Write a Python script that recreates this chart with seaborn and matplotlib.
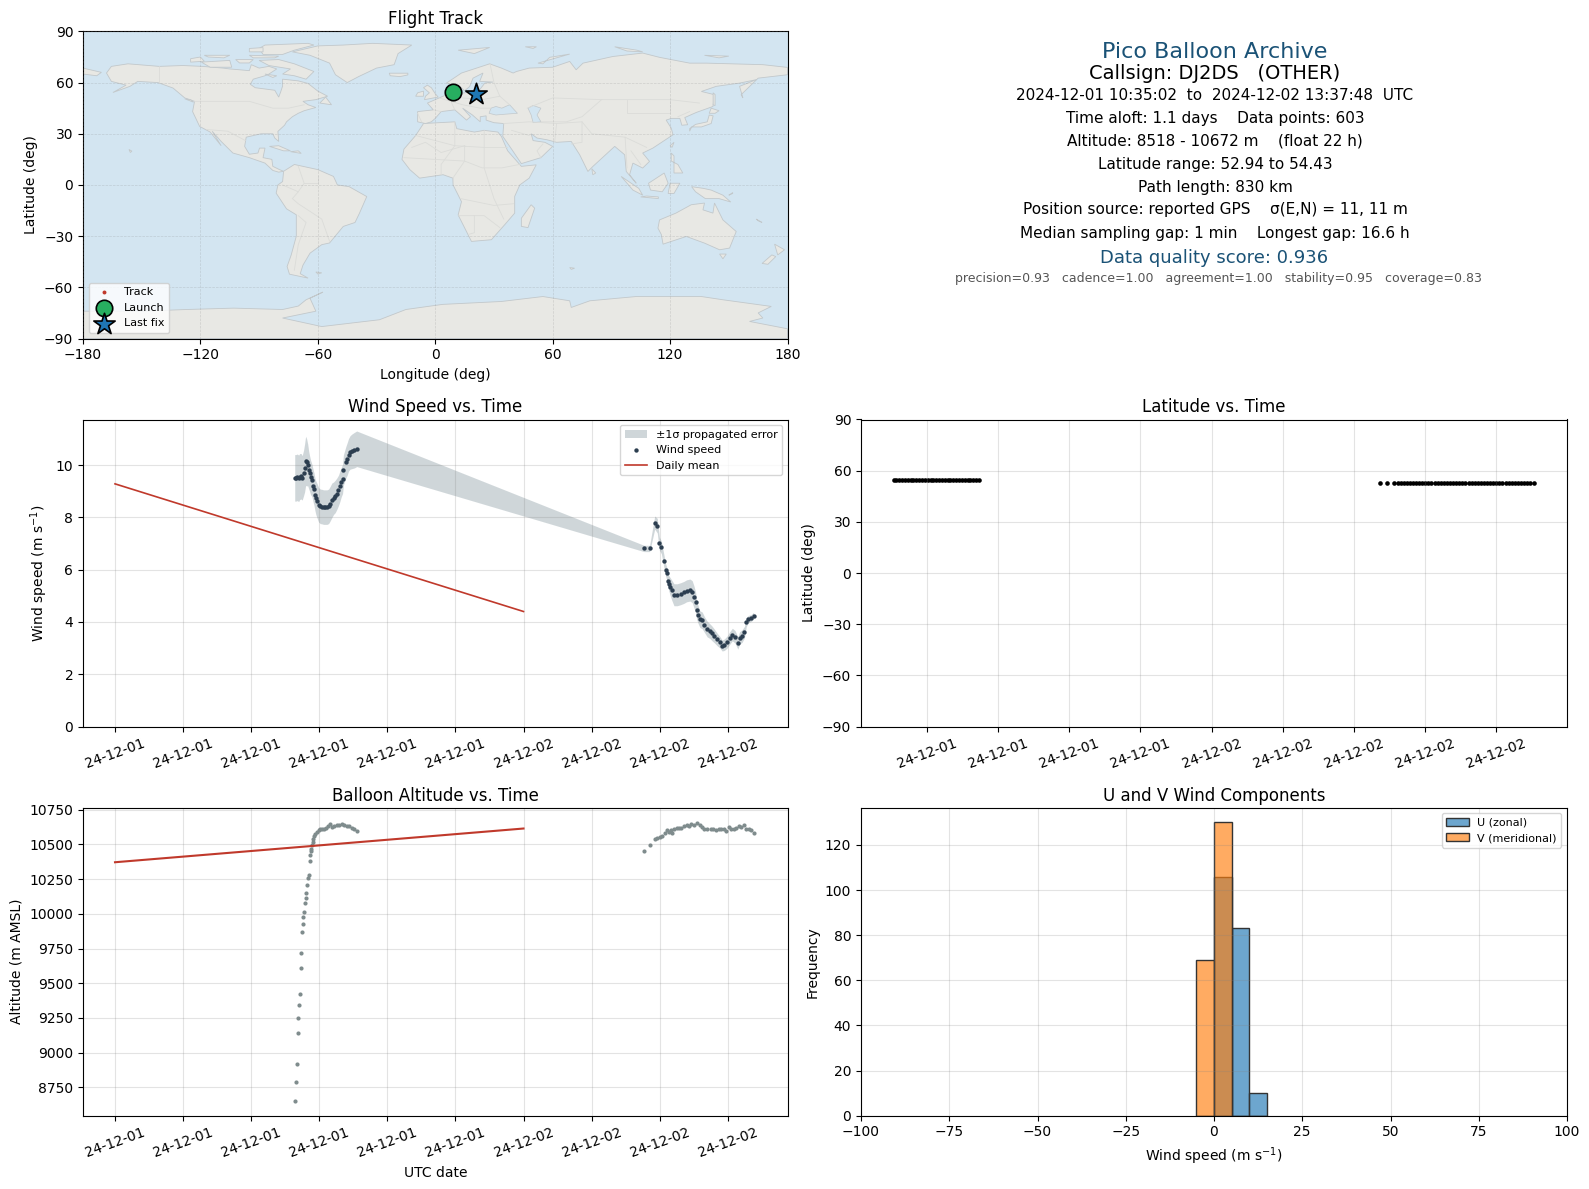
import matplotlib
matplotlib.use('Agg')
import matplotlib.dates as mdates
import matplotlib.pyplot as plt
import numpy as np
import pandas as pd
import seaborn as sns

# hours after 2024-12-01 00:00 UTC
wind_hours = [10.56, 10.63, 10.71, 10.79, 10.85, 10.93, 11.00, 11.08, 11.14, 11.20,
              11.26, 11.32, 11.38, 11.43, 11.49, 11.57, 11.65, 11.69, 11.75, 11.80,
              11.88, 11.96, 12.06, 12.16, 12.25, 12.35, 12.45, 12.55, 12.64, 12.74,
              12.84, 12.94, 13.03, 13.13, 13.21, 13.29, 13.37, 13.42, 13.56, 13.64,
              13.72, 13.81, 13.91, 14.07, 14.20,
              31.08, 31.41, 31.71, 31.86, 31.98, 32.10, 32.25, 32.35, 32.41, 32.49,
              32.55, 32.62, 32.70, 32.84, 33.03, 33.23, 33.42, 33.58, 33.78, 33.91,
              34.01, 34.11, 34.17, 34.26, 34.36, 34.50, 34.63, 34.79, 34.95, 35.08,
              35.22, 35.38, 35.53, 35.67, 35.80, 35.96, 36.12, 36.27, 36.43, 36.59,
              36.70, 36.84, 36.98, 37.09, 37.21, 37.37, 37.52]
wind_speed = [9.51, 9.51, 9.53, 9.49, 9.56, 9.57, 9.51, 9.70, 9.89, 10.16,
              10.10, 10.01, 9.81, 9.68, 9.53, 9.41, 9.18, 9.08, 8.87, 8.75,
              8.62, 8.48, 8.42, 8.41, 8.39, 8.39, 8.39, 8.42, 8.52, 8.65,
              8.73, 8.80, 8.90, 9.03, 9.18, 9.34, 9.47, 9.81, 10.10, 10.23,
              10.39, 10.48, 10.52, 10.57, 10.62,
              6.81, 6.81, 7.80, 7.68, 7.00, 6.85, 6.33, 5.99, 5.86, 5.58,
              5.46, 5.35, 5.23, 5.04, 5.04, 5.08, 5.13, 5.19, 5.22, 5.16,
              4.97, 4.75, 4.47, 4.28, 4.11, 4.06, 3.90, 3.73, 3.65, 3.56,
              3.46, 3.33, 3.23, 3.10, 3.13, 3.23, 3.39, 3.52, 3.43, 3.20,
              3.39, 3.46, 3.61, 4.00, 4.11, 4.15, 4.24]
wind_sigma = [0.89, 0.89, 0.89, 0.89, 0.88, 0.87, 0.85, 0.87, 0.92, 0.94,
              0.90, 0.80, 0.72, 0.68, 0.66, 0.62, 0.62, 0.62, 0.62, 0.64,
              0.66, 0.66, 0.66, 0.66, 0.66, 0.66, 0.66, 0.66, 0.66, 0.66,
              0.62, 0.62, 0.60, 0.58, 0.58, 0.56, 0.56, 0.58, 0.60, 0.62,
              0.62, 0.64, 0.66, 0.68, 0.68,
              0.12, 0.12, 0.25, 0.28, 0.25, 0.24, 0.24, 0.24, 0.24, 0.26,
              0.30, 0.34, 0.38, 0.42, 0.42, 0.42, 0.42, 0.42, 0.42, 0.42,
              0.42, 0.40, 0.36, 0.34, 0.32, 0.32, 0.30, 0.30, 0.28, 0.28,
              0.26, 0.24, 0.22, 0.21, 0.22, 0.23, 0.24, 0.24, 0.24, 0.24,
              0.24, 0.24, 0.22, 0.17, 0.14, 0.13, 0.13]

alt_hours = [10.58, 10.63, 10.69, 10.75, 10.75, 10.81, 10.87, 10.93, 10.93, 10.99,
             11.04, 11.04, 11.10, 11.16, 11.22, 11.22, 11.28, 11.34, 11.40, 11.45,
             11.45, 11.51, 11.53, 11.57, 11.61, 11.65, 11.71, 11.77, 11.86, 11.96,
             12.06, 12.16, 12.25, 12.39, 12.51, 12.64, 12.74, 12.88, 13.03, 13.17,
             13.33, 13.48, 13.62, 13.76, 13.91, 14.05, 14.20,
             31.08, 31.41, 31.71, 31.86, 32.02, 32.16, 32.29, 32.41, 32.55, 32.64,
             32.74, 32.84, 33.00, 33.13, 33.27, 33.42, 33.58, 33.72, 33.85, 34.01,
             34.20, 34.34, 34.50, 34.63, 34.79, 34.99, 35.14, 35.28, 35.47, 35.61,
             35.77, 35.92, 36.06, 36.20, 36.35, 36.51, 36.66, 36.80, 36.94, 37.07,
             37.23, 37.37, 37.52]
altitude = [8650, 8786, 8916, 9139, 9247, 9341, 9420, 9607, 9715, 9866,
            9924, 9974, 10010, 10082, 10111, 10154, 10205, 10255, 10277, 10378,
            10421, 10450, 10471, 10495, 10519, 10536, 10560, 10579, 10591, 10603,
            10608, 10610, 10615, 10620, 10632, 10646, 10627, 10632, 10639, 10639,
            10651, 10639, 10634, 10632, 10622, 10610, 10594,
            10450, 10493, 10543, 10548, 10553, 10560, 10584, 10603, 10591, 10603,
            10584, 10608, 10620, 10618, 10622, 10632, 10637, 10634, 10646, 10639,
            10656, 10639, 10627, 10613, 10610, 10608, 10610, 10606, 10613, 10610,
            10615, 10598, 10627, 10608, 10615, 10622, 10632, 10627, 10637, 10615,
            10608, 10601, 10586]

lat_hours = [10.60, 10.72, 10.84, 10.96, 11.08, 11.20, 11.32, 11.44, 11.56, 11.68,
             11.80, 11.92, 12.04, 12.16, 12.28, 12.40, 12.52, 12.64, 12.76, 12.88,
             13.00, 13.12, 13.24, 13.36, 13.48, 13.60, 13.72, 13.84, 13.96, 14.08, 14.20,
             31.08, 31.41, 31.71, 31.84, 31.97, 32.10, 32.23, 32.36, 32.49, 32.62,
             32.75, 32.88, 33.01, 33.14, 33.27, 33.40, 33.53, 33.66, 33.79, 33.92,
             34.05, 34.18, 34.31, 34.44, 34.57, 34.70, 34.83, 34.96, 35.09, 35.22,
             35.35, 35.48, 35.61, 35.74, 35.87, 36.00, 36.13, 36.26, 36.39, 36.52,
             36.65, 36.78, 36.91, 37.04, 37.17, 37.30, 37.42, 37.60]
latitude = [54.30, 54.30, 54.30, 54.30, 54.30, 54.30, 54.30, 54.30, 54.30, 54.30,
            54.30, 54.30, 54.30, 54.30, 54.30, 54.30, 54.30, 54.30, 54.30, 54.30,
            54.30, 54.30, 54.30, 54.30, 54.30, 54.30, 54.33, 54.36, 54.40, 54.43, 54.43,
            53.00, 53.00, 52.98, 52.98, 52.98, 52.98, 52.98, 52.98, 52.98, 52.98,
            52.98, 52.98, 52.98, 52.98, 52.98, 52.98, 52.98, 52.98, 52.98, 52.98,
            52.98, 52.98, 52.98, 52.98, 52.98, 52.98, 52.96, 52.96, 52.96, 52.96,
            52.96, 52.96, 52.96, 52.96, 52.96, 52.96, 52.96, 52.96, 52.96, 52.96,
            52.94, 52.94, 52.94, 52.94, 52.94, 52.94, 52.94, 52.94]

mean_hours = [0, 24]
mean_wind = [9.28, 4.40]
mean_alt = [10372, 10615]

hist_edges = [-5, 0, 5, 10, 15]
u_counts = [0, 106, 83, 10]
v_counts = [69, 130, 0, 0]

launch_lon, launch_lat = 9.3, 54.3
last_lon, last_lat = 20.8, 53.5
track_lon = [9.3, 9.6, 20.5, 20.8]
track_lat = [54.3, 54.4, 53.6, 53.5]

info_lines = ['2024-12-01 10:35:02  to  2024-12-02 13:37:48  UTC',
              'Time aloft: 1.1 days    Data points: 603',
              'Altitude: 8518 - 10672 m    (float 22 h)',
              'Latitude range: 52.94 to 54.43',
              'Path length: 830 km',
              'Position source: reported GPS    σ(E,N) = 11, 11 m',
              'Median sampling gap: 1 min    Longest gap: 16.6 h']

# coastlines, (lon, lat)
north_america = [(-168, 65.6), (-165.5, 69.5), (-157, 71), (-141, 69.5), (-129, 70), (-119, 69.5), (-108.5, 68.5),
                 (-105, 68), (-95, 67), (-94, 70.5), (-90, 68.5), (-85, 69.5), (-81, 68), (-85, 65), (-87, 64),
                 (-93, 62), (-94.5, 59), (-92, 57), (-82, 55.5), (-80, 51.5), (-79, 54.5), (-78, 58), (-78, 62),
                 (-70, 61), (-65, 59.5), (-60, 55), (-55, 52), (-61, 50), (-67.6, 49), (-65, 47), (-61, 45.4),
                 (-67, 43.5), (-70, 42), (-73, 40), (-76, 37), (-77, 35), (-80.4, 31.4), (-80, 25.5), (-82, 27.5),
                 (-83, 30), (-89, 30), (-96.6, 28), (-97.4, 22.6), (-95, 18), (-90.6, 18.7), (-89.8, 21.6), (-87, 21.6),
                 (-88, 16), (-83.5, 15), (-83, 10.9), (-79.6, 9), (-77.5, 8), (-80, 7.5), (-83, 8.5), (-87, 12.8),
                 (-95, 16), (-103.4, 18.7), (-109.4, 25.5), (-114, 31.5), (-109.4, 23), (-115, 31), (-120.4, 34.3),
                 (-124, 43), (-123, 49), (-128, 51), (-134, 56.8), (-141.7, 60), (-152, 60.7), (-156, 57.8),
                 (-164.7, 54.2), (-158, 58.5), (-165.5, 60.7)]
south_america = [(-77.5, 8), (-72, 12), (-60, 9), (-52, 5), (-50, 0), (-44, -1), (-35, -6.8), (-38.7, -16.5),
                 (-41, -22), (-47, -24.3), (-54, -34), (-58, -35), (-64, -40), (-67.6, -47), (-69, -52), (-65, -54.6),
                 (-74.5, -52.3), (-75.7, -47.8), (-73.6, -41), (-71, -30), (-71, -17.5), (-76, -14), (-81.3, -4.8),
                 (-80.4, 0), (-78, 2)]
africa = [(-6, 36), (10, 37), (11, 33), (20, 31), (25, 32), (32, 31), (33.8, 28.4), (37, 20), (44, 10.9), (51.6, 11.8),
          (48, 4), (43.2, 0), (40.6, -6.7), (40.6, -16.5), (35.5, -23.3), (28.7, -32.1), (18.5, -33.1), (11.7, -17.6),
          (13.4, -9.8), (9.1, 0), (9, 4), (4, 6), (-8, 4), (-13, 9), (-17, 15), (-16, 21), (-10, 29)]
eurasia = [(-9, 37), (-9, 43), (-1, 44), (-4, 48), (2, 51), (8, 54), (8, 57), (11, 56), (10, 54), (14.2, 53.8),
           (22.7, 55.8), (25.3, 59.7), (29.5, 60.3), (22.7, 60.7), (24.4, 65.6), (19.3, 62.6), (17.6, 57.7), (15, 55.2),
           (12.5, 57.7), (5.7, 59.7), (13.4, 65.6), (27.8, 71), (33.8, 68.5), (39.8, 65.6), (41.5, 66.5), (48, 68.5),
           (60, 69), (68.7, 72.4), (72, 67.5), (75.5, 71.4), (90.8, 75.3), (106, 77.3), (114.6, 74.8), (130, 71.4),
           (138.5, 71.4), (167.4, 70.5), (180, 68.9), (180, 64.6), (165, 62.6), (156.3, 52.9), (157.2, 51), (155.5, 57.8),
           (164, 61.7), (155.5, 59.7), (143.6, 57.8), (136, 54.8), (142.7, 52.9), (141.9, 46), (133.4, 42.5), (127.5, 39.5),
           (129, 35.3), (126, 35), (125, 39), (120.6, 39), (118, 38), (120.6, 33.3), (121.5, 29.4), (111.2, 21.6),
           (106, 18.7), (109.5, 13.8), (106, 9.9), (101, 12.8), (99.3, 6), (102.7, 1), (97.6, 7.9), (96.8, 17.7),
           (91.7, 22.6), (80.6, 10.9), (78, 7.9), (73.8, 17.7), (69.5, 25.5), (62, 25), (57, 26.5), (52, 27.5), (49, 30),
           (50, 26), (56, 25), (60, 22.6), (54, 16), (44, 12.5), (39, 21), (34.5, 28.5), (35, 36), (30, 36.5), (26, 38),
           (26, 40.5), (23, 40), (23, 37), (19, 41), (14, 45), (18, 40), (16, 38), (10, 44), (3, 43), (0, 39), (-2, 37), (-5, 36)]
antarctica = [(180, -84.3), (160.6, -80), (167.4, -78), (165, -75), (171.7, -71.2), (147, -67.3), (136, -65.4),
              (102.7, -65.4), (79, -67.9), (69.5, -71.8), (68.7, -67.9), (55, -65.4), (33.8, -68.3), (3.8, -70),
              (-15, -73), (-28.5, -79), (-58, -83), (-78, -78), (-61, -74), (-64, -66.4), (-57.4, -62.8), (-66, -67.3),
              (-70, -71), (-78, -73), (-103, -72.2), (-127, -73), (-150, -74), (-180, -74), (-180, -90), (180, -90)]
greenland = [(-73, 78), (-60, 81.5), (-47, 82), (-32, 83), (-12, 82), (-19, 77), (-21, 70.5), (-30, 68.5), (-39, 63.6),
             (-45, 60), (-51, 64.6), (-54, 71.4), (-64, 76)]
australia = [(113.8, -25.3), (114.6, -20.5), (123, -16.5), (130.8, -11.6), (137.6, -10.6), (136.8, -14.6), (141.9, -16.5),
             (142.7, -10.6), (147, -20.5), (153.8, -27.3), (150.4, -37), (145.3, -38), (137.6, -34.1), (128.3, -30.2),
             (116.4, -34.7), (115.5, -29)]
islands = [[(-180, 68.5), (-170.6, 66), (-173, 64), (-180, 65)],
           [(-90, 73), (-80, 73.5), (-72, 71), (-62, 66.5), (-66, 62), (-72, 64), (-78, 65), (-74, 68), (-85, 70)],
           [(-119.5, 72), (-105, 73), (-104, 69), (-115, 69)],
           [(-125, 72), (-118, 72.5), (-120, 75), (-125, 74)],
           [(-90, 80), (-87, 82), (-65, 83), (-62, 82), (-72, 79), (-78, 76.5), (-88, 76.5)],
           [(-95, 76), (-80, 75.5), (-82, 74.5), (-93, 74.5)],
           [(-118, 76), (-105, 76), (-108, 74.5), (-116, 75)],
           [(-95, 80), (-88, 80.5), (-88, 78), (-95, 78)],
           [(-102, 73.5), (-93, 73.5), (-95, 71.5), (-100, 71.5)],
           [(-87, 65), (-81, 64), (-83, 63)],
           [(-59, 48), (-53, 47), (-56, 51.5)],
           [(-128, 50.5), (-125, 50), (-123.5, 48.5)],
           [(-5.5, 50), (1.5, 51.5), (0, 53.5), (-2, 57), (-4, 58.5), (-6, 57), (-3, 54), (-5, 52)],
           [(-10, 52), (-6, 52), (-6, 55), (-9, 54)],
           [(-23.5, 65.5), (-14, 65.5), (-14, 64.5), (-18, 63.5), (-23, 64)],
           [(11.7, 79), (27.8, 80.6), (20, 77)],
           [(46, 81), (51.7, 81), (50, 80)],
           [(52.5, 71.4), (68.7, 76.7), (58.5, 74.8), (55, 71)],
           [(91.7, 81), (103, 79), (106, 78), (98, 78.5)],
           [(137.6, 76), (150, 75.5), (145, 74.5)],
           [(44, -24.3), (47.4, -25), (50.8, -13.6), (49, -11.6), (44, -19.5)],
           [(-84.7, 22.6), (-80, 23), (-74, 20), (-77.5, 20)],
           [(-74, 19.5), (-68.5, 18.5), (-70, 20)],
           [(130, 31.5), (131, 34), (136, 34), (141, 36), (142, 40.5), (140, 41), (139, 37), (133, 35.5), (130, 33)],
           [(141, 45), (145, 43.5), (143, 42), (140, 42)],
           [(142, 54), (143, 53), (143, 46.5), (142, 47)],
           [(120, 23), (122, 25), (121, 22)],
           [(120.6, 14), (124, 12), (126.5, 7), (122, 7), (122, 17), (120.6, 18.7)],
           [(109, 1), (117, 7), (119, 1), (116, -4), (110, -3)],
           [(95, 5), (104, -2), (106, -6), (101, -3)],
           [(105, -7), (114, -8), (114, -7), (108, -6.5)],
           [(120, 1), (125, 1), (122, -5), (119, -5)],
           [(131, -1), (137, -2), (141, -3), (147, -6), (151, -10), (145, -8), (138, -8), (133, -4)],
           [(150, -6), (152, -5), (152, -4.5)],
           [(165, -21), (167, -22), (164, -20)],
           [(145.3, -40.5), (148.7, -40.5), (147, -43.3)],
           [(173.4, -34.7), (178.5, -38), (175, -41)],
           [(172, -41), (174, -42), (170, -46.5), (167, -46)],
           [(80, 9.5), (82, 7), (80.5, 6)],
           [(68.7, -48.4), (71.2, -48.8), (69.5, -49.5)],
           [(-61, -51), (-58, -51.5), (-60, -52.2)],
           [(-156.5, 20.8), (-155, 19.8), (-155.8, 19)]]
inland_water = [[(27.5, 42), (28.5, 45), (31, 46), (34, 45), (38, 47), (42, 42), (36, 41.5), (31, 41)],
                [(47.4, 45), (50, 46.6), (54, 45), (52, 41), (54, 37), (50, 36.5), (49, 41)]]
borders = [[(-141, 69.5), (-141, 60)],
           [(-123, 49), (-95, 49), (-83, 45), (-75, 45), (-67, 47)],
           [(-117, 32.5), (-106, 31.5), (-97, 26)],
           [(-70, 11), (-67, 1), (-70, -4), (-73, -8), (-70, -11), (-58, -20), (-54, -33)],
           [(-60, 5), (-60, 1), (-67, 1)], [(-78, 0), (-70, -4)],
           [(-70, -18), (-66, -22), (-70, -35), (-72, -50)],
           [(-10, 29), (10, 23), (25, 22), (37, 22)],
           [(-16, 16), (15, 14), (24, 10), (34, 10), (43, 12)],
           [(25, 32), (25, 10), (30, -8), (35, -20)], [(10, 37), (10, 23), (3, 12), (3, 6)],
           [(-12, 22), (-5, 25), (3, 19), (15, 23)], [(15, 23), (15, 14), (9, 4)],
           [(13, -8), (30, -12), (40, -11)],
           [(12, -18), (25, -18), (33, -25)], [(20, -18), (20, -28), (17, -29)],
           [(10, 44), (8, 49), (14, 54)], [(2, 51), (14, 47), (23, 45), (28, 45)],
           [(-1, 44), (3, 43)], [(-9, 42), (-7, 37)],
           [(28, 71), (30, 60), (33, 52), (38, 47)], [(14, 51), (24, 50), (33, 52)],
           [(47, 45), (60, 51), (85, 50), (98, 50), (120, 50), (135, 48)],
           [(98, 50), (98, 42), (120, 42), (120, 50)],
           [(35, 36), (48, 37), (62, 36), (61, 25)], [(39, 32), (48, 29)],
           [(62, 36), (75, 37), (80, 30), (97, 28), (98, 10)], [(75, 37), (75, 25), (69.5, 24)],
           [(97, 28), (108, 22)], [(100, 20), (105, 12)], [(54, 37), (67, 37), (75, 40), (85, 50)],
           [(54, 16), (52, 20), (55, 24)], [(124, 40), (130, 43)]]

day0 = pd.Timestamp('2024-12-01')
W, H = 1589, 1189


def to_time(hours):
    return day0 + pd.to_timedelta(hours, unit='h')


def axes_px(left, top, right, bottom):
    return fig.add_axes([left / W, 1 - bottom / H, (right - left) / W, (bottom - top) / H])


def time_axis(ax, step, lim):
    ax.set_xlim(to_time(lim[0]), to_time(lim[1]))
    ax.xaxis.set_major_locator(mdates.HourLocator(byhour=range(0, 24, step)))
    ax.xaxis.set_major_formatter(mdates.DateFormatter('%y-%m-%d'))
    ax.tick_params(axis='x', labelrotation=20)
    ax.grid(True, color='grey', alpha=0.22)
    ax.set_xlabel('')


fig = plt.figure(figsize=(W / 100, H / 100), dpi=100)

# map
ax_map = axes_px(83, 31.4, 787.5, 338.5)
ax_map.set_facecolor('#d3e5f1')
land = [north_america, south_america, africa, eurasia, antarctica, greenland, australia] + islands
for poly in land:
    xs, ys = zip(*poly)
    ax_map.fill(xs, ys, facecolor='#e8e8e4', edgecolor='#c2c8cb', linewidth=0.6, zorder=1)
for poly in inland_water:
    xs, ys = zip(*poly)
    ax_map.fill(xs, ys, facecolor='#d3e5f1', edgecolor='#c2c8cb', linewidth=0.5, zorder=1.1)
for line in borders:
    xs, ys = zip(*line)
    ax_map.plot(xs, ys, color='#dbdcd9', linewidth=0.6, zorder=1.2)
ax_map.grid(True, color='grey', alpha=0.25, linewidth=0.5, linestyle='--', zorder=1.5)
ax_map.set_axisbelow(False)
sns.scatterplot(x=track_lon, y=track_lat, s=8, color='#c0392b', linewidth=0, ax=ax_map, label='Track', zorder=3)
ax_map.scatter([launch_lon], [launch_lat], s=140, color='#27ae60', edgecolor='black', linewidth=1.2, zorder=5, label='Launch')
ax_map.scatter([last_lon], [last_lat], s=260, marker='*', color='#1f77b4', edgecolor='black', linewidth=1.2, zorder=5, label='Last fix')
ax_map.set_xlim(-180, 180)
ax_map.set_ylim(-90, 90)
ax_map.set_xticks(range(-180, 181, 60))
ax_map.set_yticks(range(-90, 91, 30))
ax_map.set_xlabel('Longitude (deg)')
ax_map.set_ylabel('Latitude (deg)')
ax_map.set_title('Flight Track', pad=5)
ax_map.legend(loc='lower left', fontsize=8)

# summary text
ax_txt = axes_px(861, 31.4, 1567, 338.5)
ax_txt.axis('off')
cx = 1215


def put_text(y, s, dx=0, **kw):
    fig.text((cx + dx) / W, 1 - (y + 1) * 1.0134 / H, s, ha='center', va='center', **kw)


put_text(50, 'Pico Balloon Archive', fontsize=16, color='#1a5276')
put_text(72, 'Callsign: DJ2DS   (OTHER)', fontsize=14)
for y, s in zip([93, 116, 138, 161, 184, 206, 229], info_lines):
    put_text(y, s, fontsize=11)
put_text(254, 'Data quality score: 0.936', dx=-1, fontsize=13, color='#1a5276')
put_text(274, 'precision=0.93   cadence=1.00   agreement=1.00   stability=0.95   coverage=0.83',
         dx=3, fontsize=9, color='#555555')

# wind speed
ax_wind = axes_px(83, 419.5, 787.5, 726.6)
t = to_time(wind_hours)
ws = np.array(wind_speed)
sig = np.array(wind_sigma)
ax_wind.fill_between(t, ws - sig, ws + sig, color='#435f6b', alpha=0.25, linewidth=0, label='±1σ propagated error')
sns.scatterplot(x=t, y=ws, s=10, color='#2c3e50', linewidth=0, ax=ax_wind, label='Wind speed', zorder=3)
sns.lineplot(x=to_time(mean_hours), y=mean_wind, color='#c0392b', linewidth=1.2, ax=ax_wind, label='Daily mean')
time_axis(ax_wind, 4, (-1.88, 39.51))
ax_wind.set_ylim(0, 11.74)
ax_wind.set_ylabel('Wind speed (m s$^{-1}$)')
ax_wind.set_title('Wind Speed vs. Time', pad=5.5)
ax_wind.legend(loc='upper right', fontsize=8)

# latitude
ax_lat = axes_px(861, 419.5, 1567, 726.6)
sns.scatterplot(x=to_time(lat_hours), y=latitude, s=11, color='black', linewidth=0, ax=ax_lat)
time_axis(ax_lat, 3, (9.23, 38.98))
ax_lat.set_ylim(-90, 90)
ax_lat.set_yticks(range(-90, 91, 30))
ax_lat.set_ylabel('Latitude (deg)')
ax_lat.set_title('Latitude vs. Time', pad=5.5)

# altitude
ax_alt = axes_px(83, 807.7, 787.5, 1115.7)
sns.scatterplot(x=to_time(alt_hours), y=altitude, s=9, color='#7f8c8d', linewidth=0, ax=ax_alt)
sns.lineplot(x=to_time(mean_hours), y=mean_alt, color='#c0392b', linewidth=1.5, ax=ax_alt)
time_axis(ax_alt, 4, (-1.88, 39.51))
ax_alt.set_ylim(8546, 10765)
ax_alt.set_yticks(range(8750, 10751, 250))
ax_alt.set_xlabel('UTC date')
ax_alt.set_ylabel('Altitude (m AMSL)')
ax_alt.set_title('Balloon Altitude vs. Time', pad=5)

# u/v histogram
ax_hist = axes_px(861, 807.7, 1567, 1115.7)
centers = [(a + b) / 2 for a, b in zip(hist_edges[:-1], hist_edges[1:])]
sns.histplot(x=centers, weights=u_counts, bins=hist_edges, color='#1f77b4', alpha=0.65,
             edgecolor='#333333', linewidth=1.0, ax=ax_hist, label='U (zonal)')
sns.histplot(x=centers, weights=v_counts, bins=hist_edges, color='#ff7f0e', alpha=0.65,
             edgecolor='#333333', linewidth=1.0, ax=ax_hist, label='V (meridional)')
ax_hist.set_xlim(-100, 100)
ax_hist.set_ylim(0, 136.5)
ax_hist.grid(True, color='grey', alpha=0.22)
ax_hist.set_xlabel('Wind speed (m s$^{-1}$)')
ax_hist.set_ylabel('Frequency')
ax_hist.set_title('U and V Wind Components', pad=5)
ax_hist.legend(loc='upper right', fontsize=8)

fig.savefig('out.png', dpi=100)
